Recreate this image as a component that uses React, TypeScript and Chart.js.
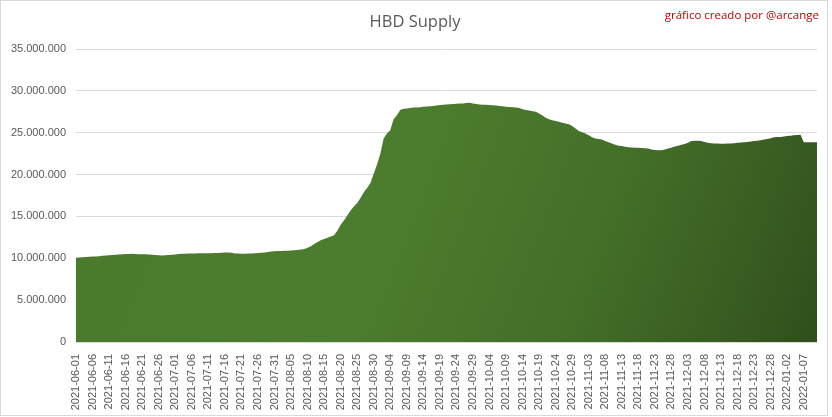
import React, { useEffect, useRef } from "react";
import { Chart, registerables } from "chart.js";

Chart.register(...registerables);

const TITLE = "HBD Supply";
const WATERMARK = "gráfico creado por @arcange";
const START_DATE = "2021-06-01";

// HBD supply in millions, one value per day starting 2021-06-01
const SUPPLY_M: number[] = [
  10.05, 10.08, 10.12, 10.15, 10.18,
  10.2, 10.22, 10.25, 10.3, 10.33,
  10.36, 10.4, 10.42, 10.45, 10.47,
  10.5, 10.52, 10.55, 10.5, 10.48,
  10.48, 10.47, 10.45, 10.42, 10.38,
  10.35, 10.33, 10.35, 10.38, 10.42,
  10.46, 10.5, 10.53, 10.55, 10.57,
  10.58, 10.58, 10.59, 10.6, 10.6,
  10.61, 10.61, 10.62, 10.63, 10.65,
  10.68, 10.7, 10.65, 10.58, 10.56,
  10.55, 10.55, 10.56, 10.57, 10.6,
  10.63, 10.66, 10.7, 10.75, 10.8,
  10.83, 10.86, 10.88, 10.9, 10.9,
  10.92, 10.95, 11.0, 11.05, 11.12,
  11.25, 11.45, 11.7, 11.95, 12.15,
  12.3, 12.45, 12.6, 12.75, 13.3,
  14.0, 14.5, 15.1, 15.7, 16.2,
  16.6, 17.2, 17.9, 18.4, 19.0,
  20.1, 21.2, 22.5, 24.3, 24.9,
  25.3, 26.6, 27.1, 27.7, 27.85,
  27.9, 27.95, 28.0, 28.02, 28.05,
  28.1, 28.13, 28.17, 28.2, 28.25,
  28.3, 28.33, 28.36, 28.4, 28.42,
  28.45, 28.48, 28.5, 28.55, 28.57,
  28.5, 28.42, 28.38, 28.35, 28.33,
  28.3, 28.28, 28.25, 28.2, 28.15,
  28.1, 28.08, 28.05, 28.0, 27.95,
  27.8, 27.7, 27.65, 27.55, 27.5,
  27.3, 27.05, 26.8, 26.6, 26.5,
  26.4, 26.3, 26.2, 26.1, 26.0,
  25.8, 25.5, 25.2, 25.05, 24.9,
  24.7, 24.45, 24.3, 24.25, 24.2,
  24.0, 23.85, 23.7, 23.55, 23.45,
  23.4, 23.33, 23.27, 23.22, 23.2,
  23.2, 23.18, 23.15, 23.1, 23.0,
  22.95, 22.9, 22.92, 23.0, 23.1,
  23.2, 23.35, 23.45, 23.55, 23.65,
  23.8, 24.0, 24.05, 24.05, 24.0,
  23.9, 23.8, 23.75, 23.7, 23.7,
  23.68, 23.68, 23.7, 23.72, 23.75,
  23.8, 23.82, 23.85, 23.88, 23.95,
  24.0, 24.05, 24.1, 24.2, 24.25,
  24.35, 24.45, 24.5, 24.5, 24.55,
  24.6, 24.65, 24.7, 24.72, 24.75,
  23.85, 23.85, 23.85, 23.85, 23.87,
];

const Y_MAX_M = 35;
const Y_STEP_M = 5;
const LABEL_EVERY = 5;

function buildDates(start: string, n: number): string[] {
  const out: string[] = [];
  const d0 = new Date(start + "T00:00:00Z");
  for (let i = 0; i < n; i++) {
    const d = new Date(d0.getTime() + i * 86400000);
    out.push(d.toISOString().slice(0, 10));
  }
  return out;
}

const DATES = buildDates(START_DATE, SUPPLY_M.length);

function fmtThousands(v: number): string {
  const s = Math.round(v).toString();
  return s.replace(/\B(?=(\d{3})+(?!\d))/g, ".");
}

export default function App() {
  const ref = useRef<HTMLCanvasElement | null>(null);

  useEffect(() => {
    if (!ref.current) return;
    const textColor = "#595959";
    const font = "'Liberation Sans', Arial, sans-serif";

    const decor = {
      id: "decor",
      beforeDraw(chart: any) {
        const { ctx } = chart;
        ctx.save();
        ctx.fillStyle = "#ffffff";
        ctx.fillRect(0, 0, chart.width, chart.height);
        ctx.restore();
      },
      afterDraw(chart: any) {
        const { ctx } = chart;
        ctx.save();
        ctx.strokeStyle = "#D9D9D9";
        ctx.lineWidth = 1;
        ctx.strokeRect(0.5, 0.5, 827, 415);
        ctx.fillStyle = textColor;
        ctx.font = `16.5px 'Open Sans', sans-serif`;
        ctx.textAlign = "center";
        ctx.textBaseline = "middle";
        ctx.fillText(TITLE, 415, 22);
        ctx.fillStyle = "#C00000";
        ctx.font = `11.5px 'Open Sans', sans-serif`;
        ctx.textAlign = "right";
        ctx.fillText(WATERMARK, 819, 16);
        ctx.restore();
      },
    };

    const chart = new Chart(ref.current, {
      type: "line",
      data: {
        labels: DATES,
        datasets: [
          {
            data: SUPPLY_M,
            fill: "origin",
            borderWidth: 0,
            borderColor: "rgba(0,0,0,0)",
            pointRadius: 0,
            tension: 0,
            backgroundColor: (c: any) => {
              const area = c.chart.chartArea;
              if (!area) return "#4A7A2C";
              const g = c.chart.ctx.createLinearGradient(area.left, area.top, area.right, area.bottom);
              g.addColorStop(0, "#4B7A2C");
              g.addColorStop(0.45, "#4C7C2D");
              g.addColorStop(0.7, "#436F28");
              g.addColorStop(0.94, "#35561F");
              g.addColorStop(1, "#2F4E1B");
              return g;
            },
          },
        ],
      },
      options: {
        animation: false,
        responsive: false,
        maintainAspectRatio: false,
        layout: { padding: { top: 49, left: 0, right: 15, bottom: 0 } },
        plugins: {
          legend: { display: false },
          title: { display: false },
          tooltip: { enabled: false },
        },
        scales: {
          x: {
            type: "category",
            offset: false,
            grid: { display: false },
            border: { display: false },
            afterFit(scale: any) {
              scale.height = 75;
            },
            ticks: {
              autoSkip: false,
              maxRotation: 90,
              minRotation: 90,
              padding: 4,
              color: textColor,
              font: { family: font, size: 11 },
              callback: (_v: any, i: number) => (i % LABEL_EVERY === 0 ? DATES[i] : null),
            },
          },
          y: {
            min: 0,
            max: Y_MAX_M,
            grid: { color: "#D9D9D9", drawTicks: false },
            border: { display: false },
            afterFit(scale: any) {
              scale.width = 76;
            },
            ticks: {
              stepSize: Y_STEP_M,
              padding: 10,
              color: textColor,
              font: { family: font, size: 11 },
              callback: (v: any) => fmtThousands(Number(v) * 1000000),
            },
          },
        },
      },
      plugins: [decor],
    });

    return () => chart.destroy();
  }, []);

  return (
    <div style={{ position: "fixed", left: 0, top: 0, width: 832, height: 417, background: "#fff" }}>
      <canvas ref={ref} width={832} height={417} style={{ width: 832, height: 417, display: "block" }} />
    </div>
  );
}
